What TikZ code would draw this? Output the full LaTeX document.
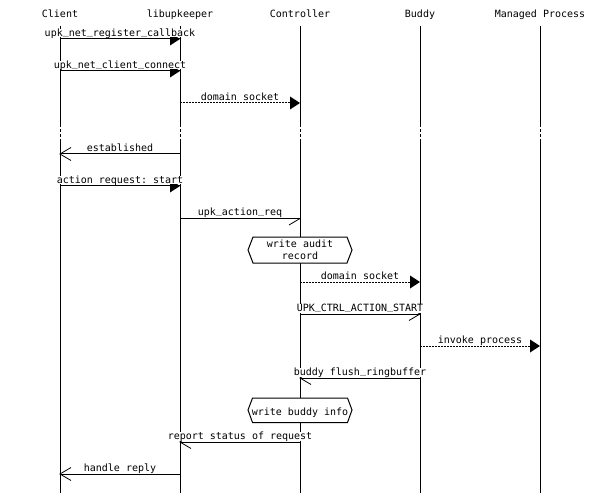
\documentclass[tikz,border=0pt]{standalone}
\usepackage{fontspec}
\setmonofont{DejaVu Sans Mono}

% underscore sitting on the baseline, clear of the arc line below it
\newcommand\us{\raisebox{2bp}{\_}}

% arrow heads, drawn at the tip #1, pointing in direction #2 (+1 right, -1 left)
\newcommand\headfilled[2]{\fill (#1) -- ++({-10*#2},-6.5) -- ++(0,13) -- cycle;}
\newcommand\headopen[2]{\draw[barb] (#1) ++({-11*#2},-6.5) -- (#1) -- ++({-11*#2},6.5);}
\newcommand\headopenlow[2]{\draw[barb] (#1) -- ++({-11*#2},6.5);}

% one arc of the chart: name, from x, to x, y, line style, head, label
\newcommand\mscarc[7]{%
  \pgfmathsetmacro\arcdir{ifthenelse(#3>#2,1,-1)}%
  \coordinate (#1-from) at (#2,#4);
  \coordinate (#1-to) at (#3,#4);
  \draw[#5] (#1-from) -- (#1-to);
  #6{#1-to}{\arcdir}
  \node[msglabel] (#1) at ({(#2+#3)/2},{#4-2.5}) {#7};
}

\begin{document}
\begin{tikzpicture}[x=1bp,y=-1bp,
  txt/.style={font=\ttfamily\fontsize{10bp}{12.3bp}\selectfont, inner sep=0pt},
  entity/.style={txt, anchor=base},
  msglabel/.style={txt, anchor=base, fill=white, inner xsep=1bp, inner ysep=0pt, text depth=1bp},
  lifeline/.style={line width=1bp},
  lifegap/.style={line width=1bp, dash pattern=on 3bp off 2bp},
  call/.style={line width=1bp},
  async/.style={line width=1bp, dash pattern=on 1.5bp off 1.5bp},
  barb/.style={line width=0.8bp},
  hexbox/.style={line width=1bp, fill=white},
  boxtext/.style={txt, align=center},
]
\useasboundingbox (0,0) rectangle (600,493);

% entities and their lifelines (dotted over the idle stretch)
\foreach \n/\x/\name in {client/60/Client, lib/180/libupkeeper, ctrl/300/Controller,
                         buddy/420/Buddy, proc/540/Managed Process} {
  \node[entity] (\n) at (\x,18) {\name};
  \coordinate (\n-top) at (\x,26);
  \coordinate (\n-gapA) at (\x,124);
  \coordinate (\n-gapB) at (\x,142);
  \coordinate (\n-end) at (\x,493);
  \draw[lifeline] (\n-top) -- (\n-gapA);
  \draw[lifegap] (\n-gapA) -- (\n-gapB);
  \draw[lifeline] (\n-gapB) -- (\n-end);
}

% action boxes on the Controller lifeline
\filldraw[hexbox] (248,250) -- (253,237) -- (347,237) -- (352,250) -- (347,263) -- (253,263) -- cycle;
\node[boxtext] (audit) at (300,250) {write audit\\record};
\filldraw[hexbox] (248,410) -- (252.5,398) -- (347.5,398) -- (352,410) -- (347.5,422.5) -- (252.5,422.5) -- cycle;
\node[boxtext, anchor=base] (buddyinfo) at (300,415) {write buddy info};

% arcs
\mscarc{regcb}{60}{180}{39}{call}{\headfilled}{upk\us net\us register\us callback}
\mscarc{connect}{60}{180}{71}{call}{\headfilled}{upk\us net\us client\us connect}
\mscarc{sock1}{180}{300}{103}{async}{\headfilled}{domain socket}
\mscarc{estab}{180}{60}{154}{call}{\headopen}{established}
\mscarc{actreq}{60}{180}{186}{call}{\headfilled}{action request: start}
\mscarc{upkreq}{180}{300}{218.5}{call}{\headopenlow}{upk\us action\us req}
\mscarc{sock2}{300}{420}{282}{async}{\headfilled}{domain socket}
\mscarc{ctrlstart}{300}{420}{314}{call}{\headopen}{UPK\us CTRL\us ACTION\us START}
\mscarc{invoke}{420}{540}{346}{async}{\headfilled}{invoke process}
\mscarc{flush}{420}{300}{378}{call}{\headopen}{buddy flush\us ringbuffer}
\mscarc{report}{300}{180}{442}{call}{\headopen}{report status of request}
\mscarc{reply}{180}{60}{474}{call}{\headopen}{handle reply}
\end{tikzpicture}
\end{document}
